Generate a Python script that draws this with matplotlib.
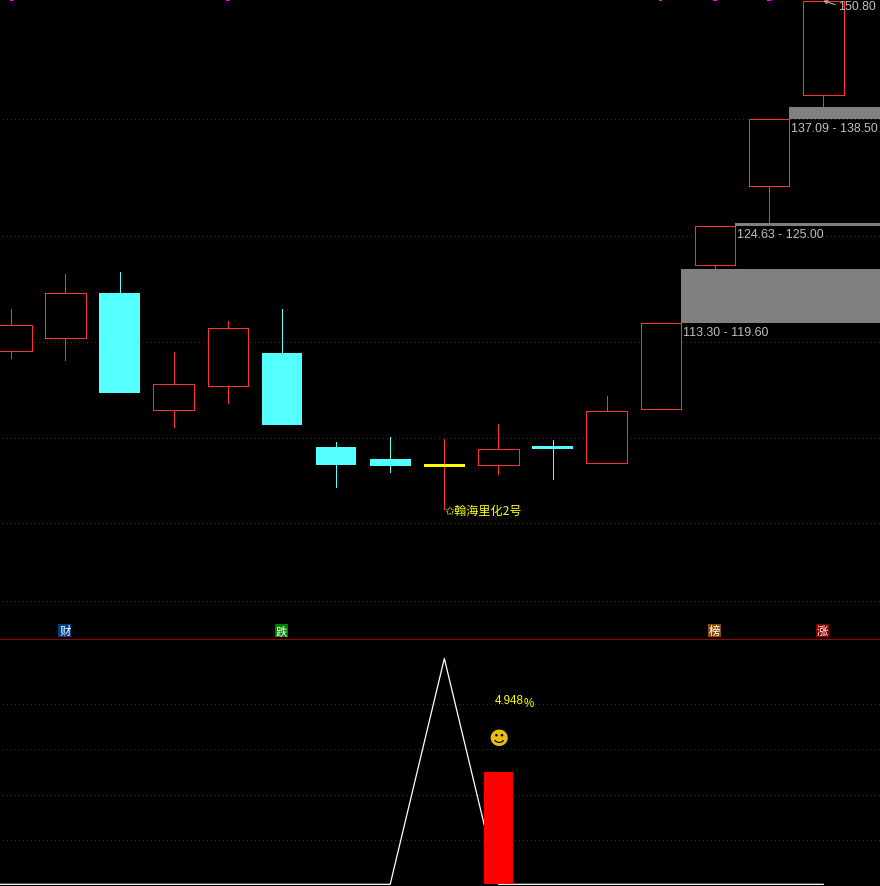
import matplotlib
matplotlib.use("Agg")
import matplotlib.pyplot as plt
from matplotlib.patches import Rectangle

W, H = 880, 887
FONT = ['Liberation Sans', 'DejaVu Sans']
CJK = ['Noto Sans CJK SC', 'DejaVu Sans']

# candles: open/close expressed as body bottom/top, plus high and low
body_top = [113.07, 116.81, 116.81, 106.17, 112.72, 109.79, 98.80, 97.39, 96.81, 98.56, 98.91, 103.01, 113.30, 124.65, 137.16, 150.90]
body_bot = [110.03, 111.55, 105.11, 103.12, 105.93, 101.37, 96.69, 96.57, 96.46, 96.69, 98.56, 96.93, 103.24, 120.08, 129.32, 139.97]
high = [114.94, 119.03, 119.26, 109.91, 113.53, 114.94, 99.38, 99.97, 99.73, 101.49, 99.62, 104.76, 113.30, 124.65, 137.16, 150.90]
low = [109.21, 108.97, 105.30, 101.14, 103.94, 101.60, 94.12, 95.87, 91.55, 95.64, 95.05, 96.93, 103.24, 119.62, 125.11, 138.56]
kinds = ['up', 'up', 'down', 'up', 'up', 'down', 'down', 'down', 'flat', 'up', 'down', 'up', 'up', 'up', 'up', 'up']

# gap zones: first candle index, low, high
zone_start = [14, 13, 12]
zone_low = [137.09, 124.63, 113.30]
zone_high = [138.50, 125.00, 119.60]
zone_labels = ['137.09 - 138.50', '124.63 - 125.00', '113.30 - 119.60']

price_grid = [137.10, 123.42, 111.08, 99.85, 89.91, 80.79]
lower_grid = [1.96, 3.95, 5.94, 7.93]
magenta_marks = [0, 4, 12, 13, 14]

badge_idx = [1, 5, 13, 15]
badge_text = ['财', '跌', '榜', '涨']
badge_color = ['#003f80', '#008000', '#8a4b08', '#8b0000']

line_values = [0, 0, 0, 0, 0, 0, 0, 0, 9.95, 0, 0, 0, 0, 0, 0, 0]
bar_idx = 9
bar_value = 4.948

RED = '#ff3232'
CYAN = '#54ffff'
YELLOW = '#ffff00'
SILVER = '#c0c0c0'
GRID = '#a00000'
PX = 0.72

STEP = 54.13
X0 = 11.3
xlim = (-X0 / STEP, (W - X0) / STEP)
BW = 0.75

fig = plt.figure(figsize=(W / 100, H / 100), dpi=100, facecolor='black')
ax = fig.add_axes([0, (H - 639) / H, 1, 639 / H], facecolor='black')
ax2 = fig.add_axes([0, 0, 1, (H - 640) / H], facecolor='black')
for a in (ax, ax2):
    a.set_xlim(*xlim)
    a.axis('off')
ax.set_ylim(113.30 - 316 / 8.55 + 0.082, 113.30 + 323 / 8.55 + 0.082)
ax2.set_ylim(-1.7 / 22.7, 245.3 / 22.7)

dots = (0, (1, 3))
for g in price_grid:
    ax.plot([3 / STEP + xlim[0], xlim[1]], [g, g], color=GRID, lw=PX, ls=dots, zorder=1,
            dash_capstyle='butt', antialiased=False)
for g in lower_grid:
    ax2.plot([3 / STEP + xlim[0], xlim[1]], [g, g], color=GRID, lw=PX, ls=dots, zorder=1,
             dash_capstyle='butt', antialiased=False)

for s, lo, hi in zip(zone_start, zone_low, zone_high):
    left = s + BW / 2
    ax.add_patch(Rectangle((left, lo), xlim[1] - left, hi - lo, fc='#808080', ec='none', zorder=2, antialiased=False))

for i, (t, b, h, l, k) in enumerate(zip(body_top, body_bot, high, low, kinds)):
    wick = CYAN if k == 'down' else RED
    ax.plot([i, i], [l, h], color=wick, lw=PX, zorder=3, antialiased=False, solid_capstyle='butt')
    if k == 'up':
        ax.add_patch(Rectangle((i - BW / 2, b), BW, t - b, fc='black', ec=RED, lw=PX, zorder=4, antialiased=False))
    elif k == 'down':
        ax.add_patch(Rectangle((i - BW / 2, b), BW, t - b, fc=CYAN, ec='none', zorder=4, antialiased=False))
    else:
        ax.add_patch(Rectangle((i - BW / 2, b), BW, t - b, fc=YELLOW, ec='none', zorder=4, antialiased=False))

for m in magenta_marks:
    ax.add_patch(Rectangle((m - 0.03, 150.94), 0.06, 0.4, fc='#ff00ff', ec='none', zorder=5, antialiased=False))

# separator
fig.add_artist(plt.Line2D([0, 1], [(H - 639.5) / H] * 2, color='#a00000', lw=PX, antialiased=False))


def px(x, y):
    return x / W, 1 - y / H


for (x, y), lab in zip([(791, 129.5), (737, 235.5), (683, 333.5)], zone_labels):
    fig.text(*px(x, y), lab, color=SILVER, fontsize=8.9, family=FONT, va='center', ha='left')

fig.text(*px(838, 6.5), '150.80', color=SILVER, fontsize=8.9, family=FONT, va='center', ha='left')
ax.annotate('', xy=(15, 150.95), xytext=(15.22, 150.5),
            arrowprops=dict(arrowstyle='->', color=SILVER, lw=PX, mutation_scale=6, shrinkA=0, shrinkB=0), zorder=6)

fig.text(*px(444.5, 511), '✩翰海里化2号', color=YELLOW, fontsize=8.7, family=CJK, va='center', ha='left')

for i, t, c in zip(badge_idx, badge_text, badge_color):
    x = X0 + STEP * i
    fig.add_artist(Rectangle((x - 7, H - 638), 13, 13, fc=c, ec='none', transform=None, antialiased=False))
    fig.text(*px(x - 0.5, 631.5), t, color='white', fontsize=8.2, family=CJK, va='center', ha='center')

# lower panel
xs = list(range(len(line_values)))
ax2.plot([xlim[0]] + xs, [0] + line_values, color='white', lw=0.9, zorder=3, solid_joinstyle='round')
ax2.bar([bar_idx], [bar_value], width=29 / STEP, color='#ff0000', zorder=4, antialiased=False)

fig.text(*px(495, 701), '4.948', color=YELLOW, fontsize=8.4, family=FONT, va='center', ha='left')
fig.text(*px(524, 704), '%', color=YELLOW, fontsize=8.4, family=FONT, va='center', ha='left')
fig.text(*px(499, 739.5), '☻', color='#e8bd1a', fontsize=14, family=['DejaVu Sans'], va='center', ha='center')

fig.savefig('out.png', dpi=100, facecolor='black')
